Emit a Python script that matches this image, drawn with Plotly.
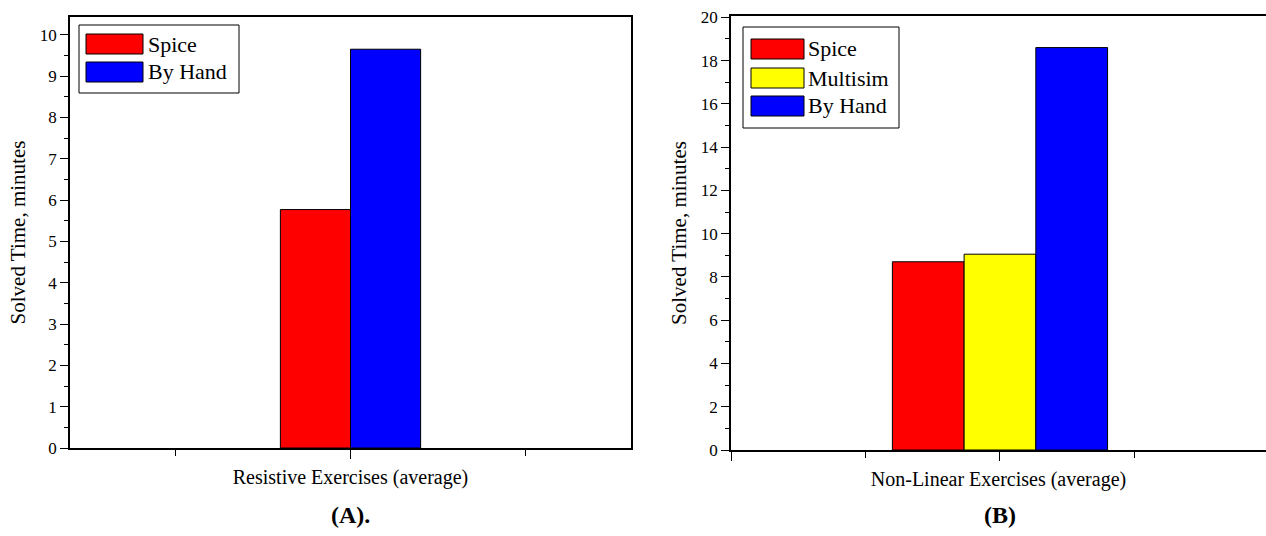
import plotly.graph_objects as go

# ---------------- data ----------------
series_a = ["Spice", "By Hand"]
values_a = [5.77, 9.65]
colors_a = ["#ff0000", "#0000ff"]
title_a = "Resistive Exercises (average)"
label_a = "(A)."

series_b = ["Spice", "Multisim", "By Hand"]
values_b = [8.7, 9.05, 18.6]
colors_b = ["#ff0000", "#ffff00", "#0000ff"]
title_b = "Non-Linear Exercises (average)"
label_b = "(B)"

y_title = "Solved Time, minutes"
group_pos = [1]  # x position of the single category group

# ---------------- layout helpers ----------------
W, H = 1266, 536
FONT = "Liberation Serif, Times New Roman, serif"


def px_x(v):
    return v / W


def px_y(v):
    return 1 - v / H


fig = go.Figure()


def add_group(names, vals, cols, xa, ya, group_width):
    n = len(names)
    w = group_width / n
    for i, (nm, v, c) in enumerate(zip(names, vals, cols)):
        fig.add_trace(go.Bar(
            x=group_pos, y=[v], name=nm, width=w, offset=-group_width / 2 + i * w,
            marker=dict(color=c, line=dict(color="black", width=1)),
            xaxis=xa, yaxis=ya, showlegend=False,
        ))


add_group(series_a, values_a, colors_a, "x", "y", 0.4)
add_group(series_b, values_b, colors_b, "x2", "y2", 0.8)

axis_common = dict(showline=True, linecolor="black", linewidth=1.5, showgrid=False,
                   zeroline=False, ticks="outside", tickcolor="black", tickwidth=1.2,
                   automargin=False,
                   tickfont=dict(family=FONT, size=17, color="black"))

xa_common = dict(axis_common, tick0=0, dtick=1, ticklen=9, showticklabels=False,
                 minor=dict(dtick=0.5, tick0=0, ticks="outside", ticklen=6,
                            tickcolor="black", tickwidth=1.2, showgrid=False))

fig.update_layout(
    width=W, height=H, margin=dict(l=0, r=0, t=0, b=0, pad=0, autoexpand=False),
    paper_bgcolor="white", plot_bgcolor="white", barmode="overlay",
    showlegend=False,
    font=dict(family=FONT, color="black"),
    xaxis=dict(xa_common, domain=[px_x(70), px_x(631)], range=[0.2, 1.8], mirror=True,
               anchor="y",
               title=dict(text=title_a, font=dict(family=FONT, size=20), standoff=12)),
    yaxis=dict(axis_common, domain=[px_y(448), px_y(17)], range=[0, 10.43], dtick=1,
               ticklen=8, mirror=True, anchor="x",
               minor=dict(dtick=0.5, ticks="outside", ticklen=4, tickcolor="black",
                          tickwidth=1.2, showgrid=False),
               title=dict(text=y_title, font=dict(family=FONT, size=21), standoff=8)),
    xaxis2=dict(xa_common, domain=[px_x(731), 1.0], range=[0, 1.989], mirror=True,
                anchor="y2",
                title=dict(text=title_b, font=dict(family=FONT, size=20), standoff=12)),
    yaxis2=dict(axis_common, domain=[px_y(450), px_y(16)], range=[0, 20.06], dtick=2,
                ticklen=8, mirror=False, anchor="x2",
                minor=dict(dtick=1, ticks="outside", ticklen=4, tickcolor="black",
                           tickwidth=1.2, showgrid=False),
                title=dict(text=y_title, font=dict(family=FONT, size=21), standoff=8)),
)

# ---------------- custom legends (boxed, wide swatches) ----------------
def add_legend(names, cols, box, sw_x, row_centers, text_x):
    x0, y0, x1, y1 = box
    fig.add_shape(type="rect", xref="paper", yref="paper",
                  x0=px_x(x0), x1=px_x(x1), y0=px_y(y1), y1=px_y(y0),
                  line=dict(color="black", width=1), fillcolor="white", layer="above")
    for nm, c, yc in zip(names, cols, row_centers):
        fig.add_shape(type="rect", xref="paper", yref="paper",
                      x0=px_x(sw_x[0]), x1=px_x(sw_x[1]),
                      y0=px_y(yc + 10), y1=px_y(yc - 10),
                      line=dict(color="black", width=1), fillcolor=c, layer="above")
        fig.add_annotation(text=nm, xref="paper", yref="paper", x=px_x(text_x), y=px_y(yc),
                           xanchor="left", yanchor="middle", showarrow=False,
                           font=dict(family=FONT, size=22, color="black"))


add_legend(series_a, colors_a, (79, 25, 239, 93), (86, 143), [44, 72], 146)
add_legend(series_b, colors_b, (743, 27, 899, 128), (751, 804), [49, 78, 106], 806)

# ---------------- panel labels ----------------
for txt, xc in [(label_a, 350), (label_b, 1000)]:
    fig.add_annotation(text="<b>%s</b>" % txt, xref="paper", yref="paper",
                       x=px_x(xc), y=px_y(515), xanchor="center", yanchor="middle",
                       showarrow=False, font=dict(family=FONT, size=24, color="black"))

fig.write_html("out.html",
               config={"displayModeBar": False},
               post_script="document.body.style.margin='0px';"
                           "document.body.style.overflow='hidden';")
